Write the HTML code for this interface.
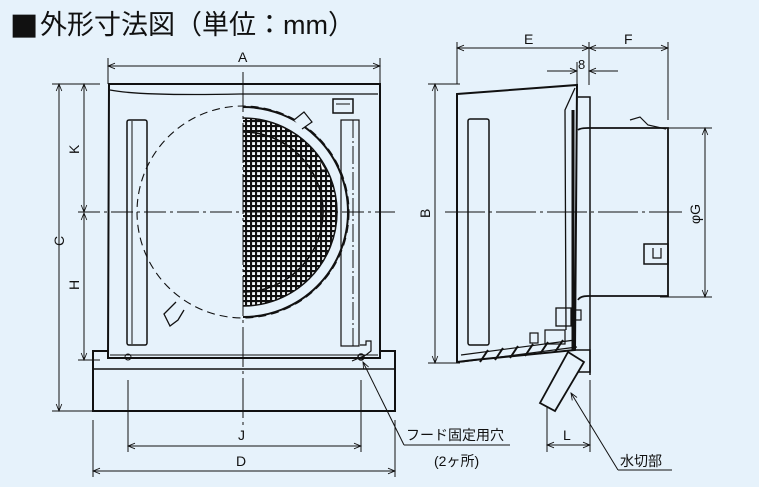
<!DOCTYPE html>
<html><head><meta charset="utf-8"><style>
html,body{margin:0;padding:0;background:#e6f2fb;}
svg{display:block;}
text{font-family:"Liberation Sans","Noto Sans CJK JP",sans-serif;fill:#111;}
</style></head><body>
<svg width="759" height="487" viewBox="0 0 759 487" xmlns="http://www.w3.org/2000/svg">
<defs>
<marker id="ar" viewBox="0 0 10 10" refX="10" refY="5" markerWidth="9" markerHeight="7" orient="auto-start-reverse" markerUnits="userSpaceOnUse">
<path d="M0,1 L10,5 L0,9" fill="none" stroke="#111" stroke-width="1.2"/></marker>
<pattern id="grid" width="5" height="5" patternUnits="userSpaceOnUse">
<rect width="5" height="5" fill="#f4f8fb"/>
<path d="M0,1H5M1,0V5" stroke="#111" stroke-width="2.2"/></pattern>
<clipPath id="half"><path d="M243,118 A94,94 0 0 1 243,306 Z"/></clipPath>
</defs>
<rect width="759" height="487" fill="#e6f2fb"/>
<text x="10" y="34" font-size="27"><tspan font-family="'DejaVu Sans',sans-serif" font-size="30">■</tspan><tspan x="40">外形寸法図（単位：mm）</tspan></text>

<g stroke="#111" fill="none" stroke-width="1">
<line x1="108" y1="58" x2="108" y2="84"/><line x1="380" y1="58" x2="380" y2="84"/>
<line x1="108" y1="66" x2="380" y2="66" marker-start="url(#ar)" marker-end="url(#ar)"/>
<line x1="52" y1="84" x2="100" y2="84"/><line x1="52" y1="411" x2="93" y2="411"/>
<line x1="59" y1="84" x2="59" y2="411" marker-start="url(#ar)" marker-end="url(#ar)"/>
<line x1="84" y1="84" x2="84" y2="212" marker-start="url(#ar)" marker-end="url(#ar)"/>
<line x1="84" y1="213" x2="84" y2="360" marker-start="url(#ar)" marker-end="url(#ar)"/>
<line x1="78" y1="360" x2="100" y2="360"/>
<line x1="128" y1="380" x2="128" y2="452"/><line x1="361" y1="380" x2="361" y2="452"/>
<line x1="128" y1="446" x2="361" y2="446" marker-start="url(#ar)" marker-end="url(#ar)"/>
<line x1="93" y1="420" x2="93" y2="477"/><line x1="395" y1="420" x2="395" y2="477"/>
<line x1="93" y1="471" x2="395" y2="471" marker-start="url(#ar)" marker-end="url(#ar)"/>
</g>

<g stroke="#111" fill="none">
<rect x="93" y="351" width="302" height="60" stroke-width="2"/>
<line x1="93" y1="369" x2="395" y2="369" stroke-width="1.5"/>
<path d="M109,84 L108,358 L380,358 L380,84 Z" stroke-width="2" fill="#e6f2fb"/>
<path d="M110,90 Q140,96 240,94 L378,94" stroke-width="1.3"/>
<line x1="110" y1="355" x2="378" y2="355" stroke-width="1"/>
<rect x="127" y="120" width="20" height="225" rx="2" stroke-width="1.5"/>
<line x1="132" y1="121" x2="132" y2="344"/>
<rect x="341" y="120" width="18" height="226" stroke-width="1.2"/>
<line x1="353" y1="120" x2="353" y2="346" stroke-dasharray="18,3,2,3"/>
<rect x="333" y="99" width="20" height="14" stroke-width="1.5"/>
<line x1="336" y1="104" x2="350" y2="104"/>
<circle cx="243" cy="212" r="106" stroke-dasharray="8,5" stroke-width="1.1"/>
<path d="M176,302 l-12,12 l6,12 l8,-6 l6,-10" stroke-width="1.3"/>
<rect x="243" y="117" width="100" height="190" fill="url(#grid)" clip-path="url(#half)" stroke="none"/>
<path d="M243,107 A105,105 0 0 1 243,317" stroke-width="2"/>
<path d="M243,118 A94,94 0 0 1 243,306" stroke-width="1.5"/>
<path d="M243,132 A80,80 0 0 1 243,292" stroke-width="1.5"/>
<path d="M294,120 l10,-8 l8,10 l-10,7" stroke-width="1.2" fill="#e6f2fb"/>
<circle cx="128" cy="357" r="3" stroke-width="1"/>
<circle cx="361" cy="357" r="3" stroke-width="1.5"/>
<path d="M360,345 l6,0 0,-4 5,0 0,10 -5,4 -14,6" stroke-width="1.2"/>
<path d="M320,160 l6,10 -4,0" fill="#fff" stroke-width="1"/>
</g>
<g stroke="#111" fill="none" stroke-width="1">
<line x1="78" y1="212" x2="395" y2="212" stroke-dasharray="22,4,3,4"/>
<line x1="243" y1="72" x2="243" y2="425" stroke-dasharray="40,4,3,4"/>
</g>

<g stroke="#111" fill="none" stroke-width="1">
<line x1="363" y1="362" x2="404" y2="445" marker-start="url(#ar)"/>
<line x1="404" y1="445" x2="510" y2="445"/>
</g>
<text x="406" y="440" font-size="14">フード固定用穴</text>
<text x="434" y="466" font-size="14">(2ヶ所)</text>

<g stroke="#111" fill="none" stroke-width="1">
<line x1="457" y1="42" x2="457" y2="84"/><line x1="589" y1="42" x2="589" y2="85"/><line x1="668" y1="42" x2="668" y2="120"/>
<line x1="457" y1="48" x2="589" y2="48" marker-start="url(#ar)" marker-end="url(#ar)"/>
<line x1="589" y1="48" x2="668" y2="48" marker-start="url(#ar)" marker-end="url(#ar)"/>
<line x1="547" y1="71" x2="577" y2="71" marker-end="url(#ar)"/>
<line x1="618" y1="71" x2="589" y2="71" marker-end="url(#ar)"/>
<line x1="577" y1="62" x2="577" y2="88"/>
<line x1="428" y1="84" x2="460" y2="84"/><line x1="428" y1="363" x2="460" y2="363"/>
<line x1="435" y1="84" x2="435" y2="363" marker-start="url(#ar)" marker-end="url(#ar)"/>
<line x1="660" y1="128" x2="712" y2="128"/><line x1="660" y1="297" x2="712" y2="297"/>
<line x1="705" y1="128" x2="705" y2="297" marker-start="url(#ar)" marker-end="url(#ar)"/>
<line x1="445" y1="212" x2="682" y2="212" stroke-dasharray="40,4,3,4"/>
<line x1="547" y1="405" x2="547" y2="452"/><line x1="590" y1="380" x2="590" y2="452"/>
<line x1="547" y1="445" x2="590" y2="445" marker-start="url(#ar)" marker-end="url(#ar)"/>
<line x1="571" y1="393" x2="618" y2="470" marker-start="url(#ar)"/>
<line x1="618" y1="470" x2="672" y2="470"/>
</g>

<g stroke="#111" fill="none">
<path d="M457,94 L577,85 L575,350 L474,360 L457,362 Z" stroke-width="2"/>
<rect x="468" y="119" width="21" height="226" rx="2" stroke-width="1.5"/>
<path d="M575,88 L565,110 L566,330" stroke-width="1.3"/>
<line x1="573" y1="110" x2="573" y2="350" stroke-width="3"/>
<path d="M578,97 L590,97 L590,375" stroke-width="1.5"/>
<path d="M578,130 Q580,128 588,128 L668,128 L668,296 L588,296 Q580,296 578,300" stroke-width="1.8"/>
<path d="M630,120 l10,-3 l8,8 l18,4" stroke-width="1.2"/>
<rect x="644" y="244" width="24" height="20" stroke-width="1.5"/>
<path d="M653,248 v10 h8 v-10" stroke-width="1.2"/>
<rect x="556" y="308" width="15" height="18" stroke-width="1.3"/>
<rect x="573" y="310" width="8" height="10" stroke-width="1.2"/>
<rect x="545" y="330" width="20" height="14" stroke-width="1.2"/>
<rect x="530" y="333" width="8" height="10" stroke-width="1.2"/>
<path d="M461,355 L575,340 M461,362 L577,347" stroke-width="1.2"/>
<path d="M480,362 l8,-12 M495,360 l8,-12 M510,358 l8,-12 M525,356 l8,-12 M540,354 l8,-12 M555,352 l8,-12" stroke-width="2"/>
<path d="M576,350 L590,350 L590,372 L576,372" stroke-width="1.5"/>
<path d="M568,352 L584,362 L555,411 L540,403 Z" stroke-width="1.8" fill="#e6f2fb"/>
</g>
<g font-size="14">
<text x="238" y="62">A</text>
<text x="524" y="44">E</text>
<text x="624" y="44">F</text>
<text x="578" y="69" font-size="13">8</text>
<text x="238" y="440">J</text>
<text x="236" y="466">D</text>
<text x="563" y="440">L</text>
<text x="620" y="466">水切部</text>
<text transform="translate(64,246) rotate(-90)">C</text>
<text transform="translate(79,154) rotate(-90)">K</text>
<text transform="translate(79,290) rotate(-90)">H</text>
<text transform="translate(430,218) rotate(-90)">B</text>
<text transform="translate(700,224) rotate(-90)">φG</text>
</g>
</svg>
</body></html>
